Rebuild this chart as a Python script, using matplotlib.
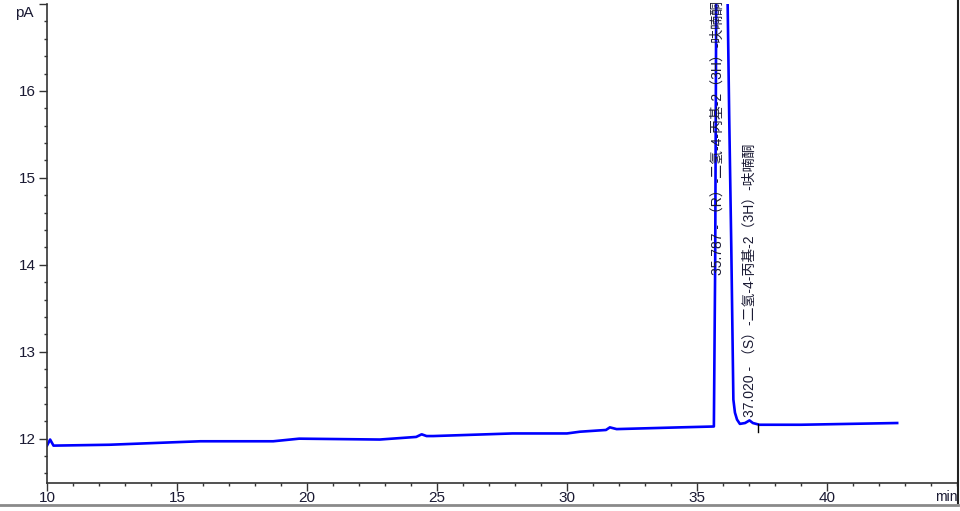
import matplotlib
matplotlib.use("Agg")
import matplotlib.pyplot as plt
from matplotlib.lines import Line2D
from matplotlib.ticker import MultipleLocator

# chromatogram trace (min, pA); the main peak is off scale
time = [10.0, 10.12, 10.25, 12.4, 15.0, 15.9, 18.7, 19.7, 22.8, 24.2, 24.41,
        24.6, 24.86, 27.9, 30.0, 30.5, 31.5, 31.65, 31.91, 34.35, 35.65,
        35.70, 35.76, 35.95, 36.18, 36.24, 36.32, 36.40, 36.46, 36.54, 36.65,
        36.85, 37.02, 37.15, 37.4, 39.0, 42.7]
signal = [11.92, 11.99, 11.92, 11.93, 11.96, 11.97, 11.97, 12.0, 11.99, 12.02,
          12.05, 12.03, 12.03, 12.06, 12.06, 12.08, 12.10, 12.13, 12.11, 12.13,
          12.14, 14.0, 18.5, 30.0, 17.0, 15.7, 14.2, 12.45, 12.3, 12.22, 12.17,
          12.18, 12.21, 12.18, 12.16, 12.16, 12.18]

peak_times = [35.787, 37.020]
peak_names = ["（R）-二氢-4-丙基-2（3H）-呋喃酮", "（S）-二氢-4-丙基-2（3H）-呋喃酮"]
peak_label_base = [13.88, 12.25]
event_marks = [37.35]

yticks = [12, 13, 14, 15, 16, 17]
ytick_labels = ["12", "13", "14", "15", "16", ""]
xticks = [10, 15, 20, 25, 30, 35, 40]

txt = "#1a1a33"
fam = ["Liberation Sans", "Noto Sans CJK SC", "DejaVu Sans"]
plt.rcParams["font.family"] = fam

fig = plt.figure(figsize=(9.6, 5.11), dpi=100)
ax = fig.add_axes([47 / 960, 1 - 483 / 511, (958 - 47) / 960, (483 - 4) / 511])

ax.plot(time, signal, color="#0000ff", lw=1.9, clip_on=True)
for t in event_marks:
    ax.plot([t, t], [12.08, 12.17], color="black", lw=1)

for t, name, yb in zip(peak_times, peak_names, peak_label_base):
    ax.text(t, yb, f"{t:.3f} - {name}", rotation=90, ha="center", va="bottom",
            fontsize=10, color=txt, family=fam)

ax.set_xlim(10, 45.04)
ax.set_ylim(11.49, 17.0)
ax.set_xticks(xticks)
ax.xaxis.set_minor_locator(MultipleLocator(1))
ax.set_yticks(yticks)
ax.set_yticklabels(ytick_labels)
ax.yaxis.set_minor_locator(MultipleLocator(0.2))

ax.tick_params(which="major", length=6, width=1, colors="#333333", labelcolor=txt,
               labelsize=11, pad=2)
ax.tick_params(axis="x", which="major", pad=0)
ax.tick_params(which="minor", length=2.5, width=1, colors="#333333")

for s in ["top", "right"]:
    ax.spines[s].set_visible(False)
for s in ["left", "bottom"]:
    ax.spines[s].set_color("#333333")
    ax.spines[s].set_linewidth(1.2)

fig.text(34 / 960, 1 - 13 / 511, "pA", ha="right", va="center", fontsize=11, color=txt)
fig.text(958 / 960, 1 - 497 / 511, "min", ha="right", va="center", fontsize=10, color=txt)

# outer frame lines of the report page
fig.add_artist(Line2D([0, 958 / 960], [1 - 505 / 511] * 2, color="#8a8a8a", lw=2))
fig.add_artist(Line2D([958 / 960] * 2, [1 - 503 / 511, 1], color="#222222", lw=1.5))

fig.savefig("out.png", dpi=100)
